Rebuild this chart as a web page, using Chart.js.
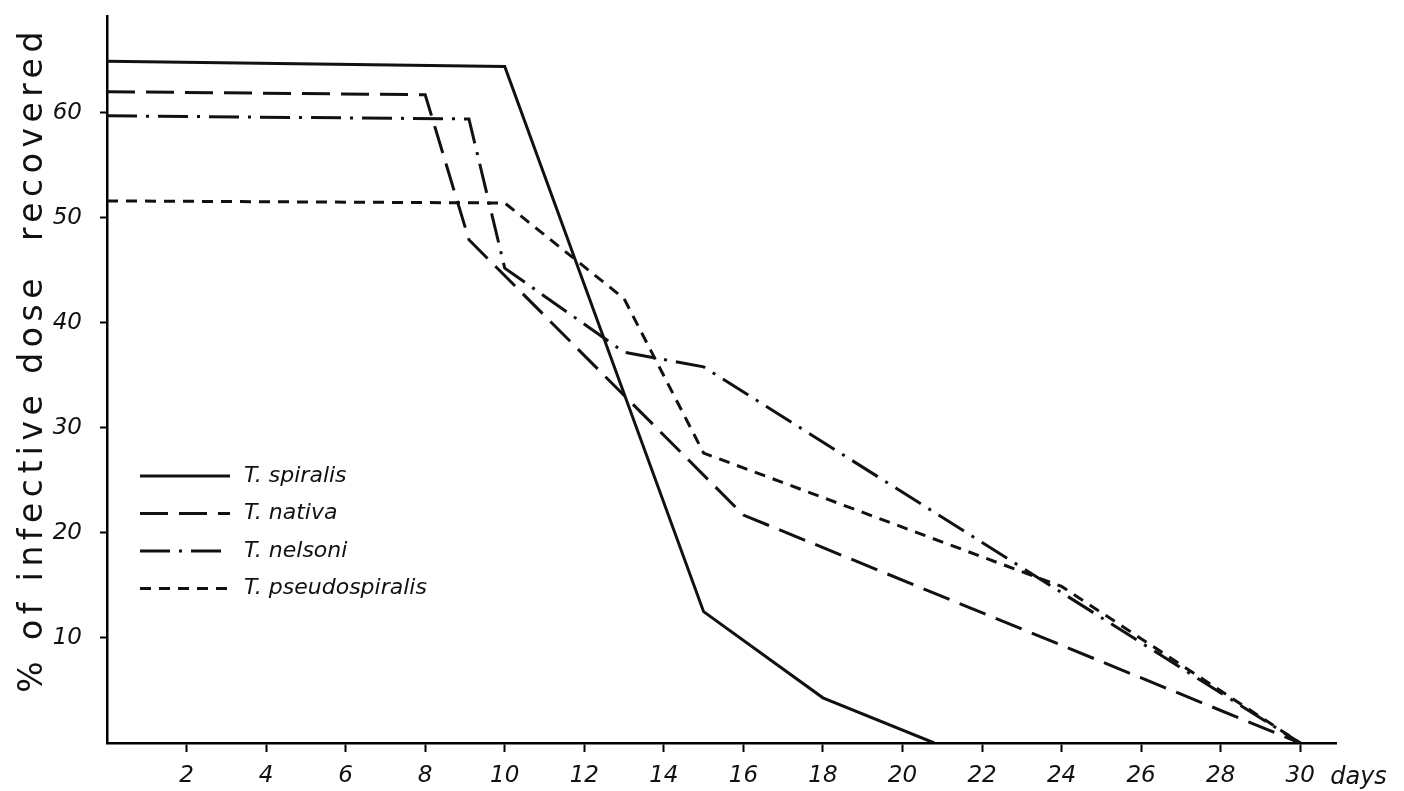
<!DOCTYPE html>
<html lang="en">
<head>
<meta charset="UTF-8">
<title>Infective dose recovered</title>
<script src="https://cdn.jsdelivr.net/npm/chart.js@4.4.0/dist/chart.umd.min.js"></script>
<style>
  html, body { margin: 0; padding: 0; background: #fff; }
  #wrap { width: 1404px; height: 791px; }
</style>
</head>
<body>
<div id="wrap"><canvas id="chart" width="1404" height="791"></canvas></div>
<script>
// values (day, % recovered)
var spiralisDays = [0, 10, 15, 18, 20.8];
var spiralisVals = [64.9, 64.4, 12.5, 4.3, 0];

var nativaDays = [0, 8, 9.1, 16, 30];
var nativaVals = [62.0, 61.7, 47.9, 21.7, 0];

var nelsoniDays = [0, 9.1, 10, 13, 15, 30];
var nelsoniVals = [59.7, 59.4, 45.2, 37.2, 35.8, 0];

var pseudoDays = [0, 10, 13, 15, 24, 30];
var pseudoVals = [51.6, 51.4, 42.3, 27.6, 14.9, 0];

var xTicks = [2, 4, 6, 8, 10, 12, 14, 16, 18, 20, 22, 24, 26, 28, 30];
var yTicks = [10, 20, 30, 40, 50, 60];

var seriesNames = ['T. spiralis', 'T. nativa', 'T. nelsoni', 'T. pseudospiralis'];
var yTitle = '% of infective dose  recovered';

function pts(days, vals) {
    return days.map(function (d, i) { return { x: d, y: vals[i] }; });
}

var ink = '#111';
var dashes = [[], [28, 11], [30, 9, 3, 9], [11, 8]];

function ds(i, days, vals) {
    return {
        label: seriesNames[i],
        data: pts(days, vals),
        borderColor: ink,
        borderWidth: 3,
        borderDash: dashes[i],
        pointRadius: 0,
        tension: 0,
        fill: false
    };
}

// legend inside the plot, axis title with wide spacing, "days" after last tick
var extrasPlugin = {
    id: 'extras',
    afterDraw: function (chart) {
        var ctx = chart.ctx;
        var area = chart.chartArea;
        ctx.save();
        ctx.font = 'italic 22px "DejaVu Sans"';
        ctx.fillStyle = ink;
        ctx.textBaseline = 'middle';
        chart.data.datasets.forEach(function (d, i) {
            var y = 476 + i * 37.5;
            ctx.beginPath();
            ctx.setLineDash(d.borderDash);
            ctx.lineWidth = 3;
            ctx.strokeStyle = ink;
            ctx.moveTo(140, y);
            ctx.lineTo(230, y);
            ctx.stroke();
            ctx.setLineDash([]);
            ctx.fillText(d.label, 244, y);
        });

        var xs = chart.scales.x;
        ctx.font = 'italic 24px "DejaVu Sans"';
        ctx.textBaseline = 'alphabetic';
        ctx.fillText('days', xs.getPixelForValue(30) + 30, 784);

        // rotated y title
        ctx.translate(33, (area.top + area.bottom) / 2 - 20);
        ctx.rotate(-Math.PI / 2);
        ctx.font = '33px "DejaVu Sans"';
        if ('letterSpacing' in ctx) ctx.letterSpacing = '5.5px';
        ctx.textAlign = 'center';
        ctx.textBaseline = 'middle';
        ctx.fillText(yTitle, 0, 0);
        ctx.restore();
    }
};

var chart = new Chart(document.getElementById('chart'), {
    type: 'line',
    data: {
        datasets: [
            ds(0, spiralisDays, spiralisVals),
            ds(1, nativaDays, nativaVals),
            ds(2, nelsoniDays, nelsoniVals),
            ds(3, pseudoDays, pseudoVals)
        ]
    },
    plugins: [extrasPlugin],
    options: {
        responsive: false,
        animation: false,
        layout: { padding: { top: 16, right: 68, left: 0, bottom: 0 } },
        plugins: {
            legend: { display: false },
            tooltip: { enabled: false }
        },
        scales: {
            x: {
                type: 'linear',
                min: 0,
                max: 30.9,
                afterBuildTicks: function (s) {
                    s.ticks = xTicks.map(function (v) { return { value: v }; });
                },
                afterFit: function (s) {
                    s.height = 48;
                    s.paddingLeft = 0;
                    s.paddingRight = 0;
                },
                border: { color: '#000', width: 2.5 },
                grid: { drawOnChartArea: false, color: '#000', tickLength: 9, tickWidth: 2 },
                ticks: {
                    color: ink,
                    padding: 10,
                    maxRotation: 0,
                    autoSkip: false,
                    font: { family: 'DejaVu Sans', size: 23, style: 'italic' }
                }
            },
            y: {
                min: 0,
                max: 69.2,
                afterBuildTicks: function (s) {
                    s.ticks = yTicks.map(function (v) { return { value: v }; });
                },
                afterFit: function (s) {
                    s.width = 107;
                    s.paddingTop = 0;
                    s.paddingBottom = 0;
                },
                border: { color: '#000', width: 2.5 },
                grid: { drawOnChartArea: false, color: '#000', tickLength: 7, tickWidth: 2 },
                ticks: {
                    color: ink,
                    padding: 18,
                    autoSkip: false,
                    font: { family: 'DejaVu Sans', size: 23, style: 'italic' }
                }
            }
        }
    }
});
</script>
</body>
</html>
